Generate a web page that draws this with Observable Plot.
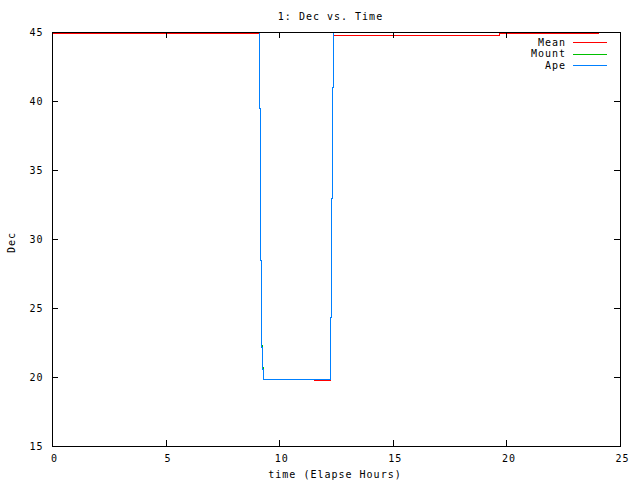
<!DOCTYPE html>
<html>
<head>
<meta charset="utf-8">
<script src="https://cdn.jsdelivr.net/npm/d3@7"></script>
<script src="https://cdn.jsdelivr.net/npm/@observablehq/plot@0.6"></script>
<style>
  html, body { margin: 0; padding: 0; background: white; }
</style>
</head>
<body>
<div id="chart"></div>
<script>
const titleText = "1: Dec vs. Time";
const xLabel = "time (Elapse Hours)";
const yLabel = "Dec";
const xTicks = [0, 5, 10, 15, 20, 25];
const yTicks = [15, 20, 25, 30, 35, 40, 45];
const seriesNames = ["Mean", "Mount", "Ape"];
const seriesColors = ["#ff0000", "#00c000", "#0080ff"];

const meanTime = [0, 9.12, 9.12, 9.16, 9.16, 9.21, 9.21, 9.25, 9.25, 9.30, 9.30, 11.53, 11.53, 12.25, 12.25, 12.29, 12.29, 12.33, 12.33, 12.38, 12.38, 19.67, 19.67, 24.02];
const meanDec  = [44.93, 44.93, 39.5, 39.5, 28.5, 28.5, 22.2, 22.2, 20.6, 20.6, 19.84, 19.84, 19.76, 19.76, 24.35, 24.35, 33.0, 33.0, 41.0, 41.0, 44.78, 44.78, 44.93, 44.93];

const mountTime = [0, 9.11, 9.11, 9.15, 9.15, 9.20, 9.20, 9.24, 9.24, 9.29, 9.29, 12.25, 12.25, 12.29, 12.29, 12.33, 12.33, 12.38, 12.38, 24.0];
const mountDec  = [45, 45, 39.5, 39.5, 28.5, 28.5, 22.3, 22.3, 20.7, 20.7, 19.84, 19.84, 24.35, 24.35, 33.0, 33.0, 41.0, 41.0, 45, 45];

const apeTime = [0, 9.12, 9.12, 9.16, 9.16, 9.21, 9.21, 9.25, 9.25, 9.30, 9.30, 12.25, 12.25, 12.29, 12.29, 12.33, 12.33, 12.38, 12.38, 24.0];
const apeDec  = [45, 45, 39.5, 39.5, 28.5, 28.5, 22.2, 22.2, 20.6, 20.6, 19.84, 19.84, 24.35, 24.35, 33.0, 33.0, 41.0, 41.0, 45, 45];

const toRows = (ts, vs) => ts.map((t, i) => ({t, v: vs[i]}));
const seriesData = [toRows(meanTime, meanDec), toRows(mountTime, mountDec), toRows(apeTime, apeDec)];

const W = 640, H = 480, mL = 52, mR = 20, mT = 32, mB = 34;
const fw = W - mL - mR, fh = H - mT - mB, tickLen = 6;
const font = "DejaVu Sans Mono";

const chart = Plot.plot({
  width: W, height: H,
  marginLeft: mL, marginRight: mR, marginTop: mT, marginBottom: mB,
  style: {fontFamily: font, fontSize: "10px", letterSpacing: "1px", background: "white", color: "black"},
  x: {domain: [0, 25]},
  y: {domain: [15, 45]},
  marks: [
    Plot.axisX(xTicks, {tickSize: 0, tickPadding: 8, dx: 2, label: null, fontSize: 10}),
    Plot.axisY(yTicks, {tickSize: 0, tickPadding: 9, label: null, fontSize: 10}),
    ...seriesData.map((d, i) => Plot.line(d, {x: "t", y: "v", stroke: seriesColors[i], strokeWidth: 1, shapeRendering: "crispEdges"})),
    Plot.ruleX(xTicks, {x: d => d, insetTop: fh - tickLen, stroke: "black", shapeRendering: "crispEdges"}),
    Plot.ruleX(xTicks, {x: d => d, insetBottom: fh - tickLen, stroke: "black", shapeRendering: "crispEdges"}),
    Plot.ruleY(yTicks, {y: d => d, insetRight: fw - tickLen, stroke: "black", shapeRendering: "crispEdges"}),
    Plot.ruleY(yTicks, {y: d => d, insetLeft: fw - tickLen, stroke: "black", shapeRendering: "crispEdges"}),
    Plot.frame({stroke: "black", strokeWidth: 1, shapeRendering: "crispEdges"}),
    Plot.text([titleText], {frameAnchor: "top", lineAnchor: "middle", dy: -16, dx: -6, fontSize: 10, letterSpacing: "0.7px"}),
    Plot.text([xLabel], {frameAnchor: "bottom", lineAnchor: "middle", dy: 28, dx: -1.5, fontSize: 10}),
    Plot.text([yLabel], {frameAnchor: "left", textAnchor: "middle", lineAnchor: "middle", dx: -41, dy: 3, rotate: -90, fontSize: 10})
  ]
});

// legend (top-right, gnuplot style)
const svg = d3.select(chart);
const lg = svg.append("g").attr("font-family", font).attr("font-size", 10).style("letter-spacing", "1px");
seriesNames.forEach((name, i) => {
  const yy = 42 + i * 11.5;
  lg.append("text").attr("x", 566).attr("y", yy).attr("dy", "0.35em")
    .attr("text-anchor", "end").attr("fill", "black").text(name);
  lg.append("line").attr("x1", 573).attr("x2", 607).attr("y1", Math.round(yy) + 0.5).attr("y2", Math.round(yy) + 0.5)
    .attr("stroke", seriesColors[i]).attr("stroke-width", 1).attr("shape-rendering", "crispEdges");
});

document.getElementById("chart").appendChild(chart);
</script>
</body>
</html>
